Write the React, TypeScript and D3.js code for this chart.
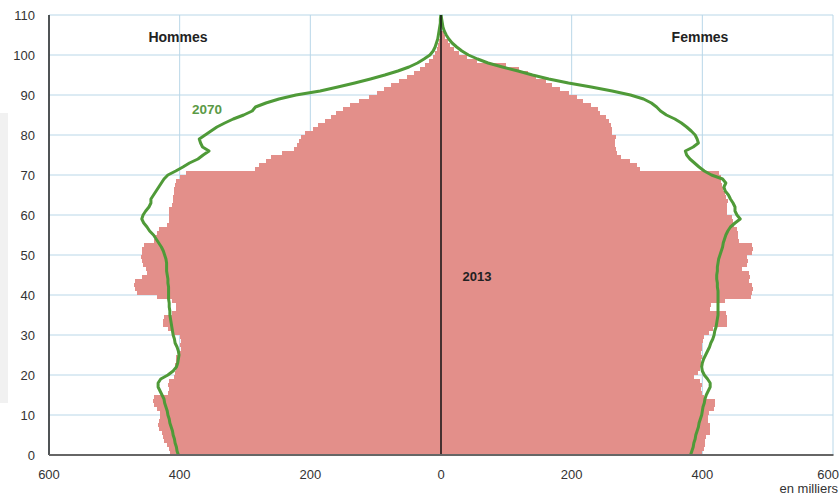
// Population pyramid: France 2013 (bars) vs 2070 projection (line)
import React, { useEffect, useRef } from 'react';
import * as d3 from 'd3';

// 2013 population by single year of age (0..105), thousands
const men2013: number[] = [
  415, 417, 420, 424, 426, 427, 432, 433, 431, 430,
  430, 434, 440, 441, 439, 418, 417, 418, 416, 408,
  407, 406, 407, 406, 405, 399, 398, 399, 398, 400,
  408, 418, 425, 426, 424, 412, 405, 406, 412, 435,
  466, 468, 470, 468, 458, 450, 451, 456, 458, 459,
  458, 457, 455, 440, 437, 434, 432, 420, 417, 416,
  417, 416, 412, 410, 410, 409, 408, 407, 405, 400,
  390, 285, 279, 268, 260, 243, 225, 221, 218, 214,
  208, 196, 188, 178, 168, 160, 150, 139, 125, 110,
  98, 88, 76, 64, 52, 42, 32, 24, 18, 13,
  9, 6, 4, 3, 2, 1,
];

const women2013: number[] = [
  400, 402, 404, 404, 405, 411, 412, 412, 409, 408,
  410, 418, 420, 419, 402, 399, 398, 399, 397, 388,
  394, 396, 398, 398, 399, 398, 399, 400, 401, 402,
  410, 417, 437, 438, 437, 436, 412, 414, 435, 474,
  476, 477, 476, 472, 473, 471, 460, 468, 470, 469,
  476, 477, 476, 456, 455, 454, 453, 448, 447, 446,
  438, 437, 438, 440, 436, 435, 431, 430, 429, 428,
  425, 305, 300, 290, 275, 270, 268, 267, 266, 268,
  262, 262, 260, 257, 252, 244, 240, 230, 218, 208,
  196, 182, 170, 160, 146, 133, 120, 100, 55, 40,
  28, 20, 14, 10, 6, 4,
];

// 2070 projection by age (0..110), thousands
const men2070: number[] = [
  402, 404, 405, 407, 408, 410, 411, 413, 415, 416,
  418, 419, 421, 423, 424, 427, 430, 433, 433, 429,
  418, 410, 405, 403, 402, 401, 402, 404, 407, 408,
  410, 411, 412, 413, 414, 415, 415, 416, 416, 417,
  417, 417, 417, 418, 418, 419, 420, 420, 420, 421,
  423, 425, 428, 432, 436, 440, 446, 450, 455, 458,
  456, 452, 447, 444, 444, 440, 436, 432, 428, 424,
  418, 406, 395, 385, 372, 364, 355, 365, 368, 370,
  361, 352, 343, 331, 318, 302, 289, 284, 268, 248,
  222, 185, 158, 132, 108, 86, 66, 49, 36, 26,
  17, 12, 9, 7, 5, 4, 3, 2, 1, 1,
  0,
];

const women2070: number[] = [
  382, 384, 386, 387, 389, 390, 392, 394, 395, 397,
  399, 400, 401, 403, 404, 406, 409, 412, 412, 408,
  403, 400, 399, 400, 402, 405, 408, 411, 413, 416,
  418, 419, 421, 422, 423, 424, 424, 424, 424, 424,
  424, 424, 423, 423, 422, 422, 423, 423, 424, 425,
  427, 429, 431, 432, 434, 436, 439, 443, 450, 458,
  453, 450, 450, 447, 443, 440, 435, 433, 436, 431,
  414, 403, 395, 388, 381, 376, 374, 386, 394, 392,
  389, 383, 376, 368, 358, 345, 336, 330, 322, 310,
  290, 262, 230, 195, 165, 140, 118, 94, 72, 56,
  42, 32, 24, 17, 12, 8, 5, 3, 2, 1,
  0,
];

const ageTicks: number[] = [0, 10, 20, 30, 40, 50, 60, 70, 80, 90, 100, 110];
const valueTicks: number[] = [0, 200, 400, 600];

const FONT = '"Liberation Sans", Arial, sans-serif';

const Pyramid: React.FC = () => {
  const ref = useRef<SVGSVGElement>(null);

  useEffect(() => {
    if (!ref.current) return;
    const svg = d3.select(ref.current);
    svg.selectAll('*').remove();

    const width = 840;
    const height = 501;
    const left = 49;
    const right = 833;
    const top = 15;
    const bottom = 455;
    const mid = (left + right) / 2;

    svg.attr('width', width).attr('height', height);

    const xMen = d3.scaleLinear().domain([0, 600]).range([mid, left]);
    const xWomen = d3.scaleLinear().domain([0, 600]).range([mid, right]);
    const y = d3.scaleLinear().domain([0, 110]).range([bottom, top]);

    // stray grey strip at the left edge of the screenshot
    svg.append('rect')
      .attr('x', 0).attr('y', 113).attr('width', 8).attr('height', 290)
      .attr('fill', '#f1f1f1');

    const grid = svg.append('g').attr('stroke', '#b9d7e8').attr('stroke-width', 1);
    ageTicks.forEach((a) => {
      grid.append('line')
        .attr('x1', left).attr('x2', right)
        .attr('y1', y(a)).attr('y2', y(a));
    });
    valueTicks.filter((v) => v > 0).forEach((v) => {
      [xMen(v), xWomen(v)].forEach((px) => {
        grid.append('line')
          .attr('x1', px).attr('x2', px)
          .attr('y1', top).attr('y2', bottom);
      });
    });

    // 2013 bars
    const bars = svg.append('g').attr('fill', '#e38f8a').attr('shape-rendering', 'crispEdges');
    men2013.forEach((v, age) => {
      bars.append('rect')
        .attr('x', xMen(v))
        .attr('y', y(age + 1))
        .attr('width', mid - xMen(v))
        .attr('height', y(age) - y(age + 1));
    });
    women2013.forEach((v, age) => {
      bars.append('rect')
        .attr('x', mid)
        .attr('y', y(age + 1))
        .attr('width', xWomen(v) - mid)
        .attr('height', y(age) - y(age + 1));
    });

    // 2070 lines
    const menLine = d3.line<number>().x((d) => xMen(d)).y((_, i) => y(i));
    const womenLine = d3.line<number>().x((d) => xWomen(d)).y((_, i) => y(i));
    [menLine(men2070), womenLine(women2070)].forEach((d) => {
      svg.append('path')
        .attr('d', d ?? '')
        .attr('fill', 'none')
        .attr('stroke', '#4f9a38')
        .attr('stroke-width', 3)
        .attr('stroke-linejoin', 'round');
    });

    // axes
    svg.append('line')
      .attr('x1', mid).attr('x2', mid).attr('y1', top).attr('y2', bottom)
      .attr('stroke', '#111').attr('stroke-width', 1.5);
    svg.append('line')
      .attr('x1', left).attr('x2', left).attr('y1', top).attr('y2', bottom)
      .attr('stroke', '#222').attr('stroke-width', 1.5);
    svg.append('line')
      .attr('x1', left).attr('x2', right + 0.5).attr('y1', bottom).attr('y2', bottom)
      .attr('stroke', '#666').attr('stroke-width', 2);

    const labels = svg.append('g')
      .style('font-family', FONT)
      .style('font-size', '13px')
      .attr('fill', '#333');
    ageTicks.forEach((a) => {
      labels.append('text')
        .attr('x', 35).attr('y', y(a) + 5)
        .attr('text-anchor', 'end')
        .text(a);
    });
    const xTicks = [
      ...valueTicks.slice().reverse().map((v) => ({ v, px: xMen(v) })),
      ...valueTicks.slice(1).map((v) => ({ v, px: xWomen(v) })),
    ];
    xTicks.forEach((t) => {
      const atEdge = t.px > width - 20;
      labels.append('text')
        .attr('x', atEdge ? width - 1 : t.px).attr('y', 479)
        .attr('text-anchor', atEdge ? 'end' : 'middle')
        .text(t.v);
    });
    labels.append('text')
      .attr('x', 838).attr('y', 493)
      .attr('text-anchor', 'end')
      .text('en milliers');

    const bold = svg.append('g')
      .style('font-family', FONT)
      .style('font-weight', 'bold')
      .style('font-size', '14px');
    bold.append('text').attr('x', 178).attr('y', 42).attr('text-anchor', 'middle')
      .attr('fill', '#222').text('Hommes');
    bold.append('text').attr('x', 700).attr('y', 42).attr('text-anchor', 'middle')
      .attr('fill', '#222').text('Femmes');
    bold.append('text').attr('x', 477).attr('y', 281).attr('text-anchor', 'middle')
      .attr('fill', '#222').style('font-size', '13px').text('2013');
    bold.append('text').attr('x', 207).attr('y', 114).attr('text-anchor', 'middle')
      .attr('fill', '#5b9a46').style('font-size', '13.5px').text('2070');
  }, []);

  return <svg ref={ref} style={{ display: 'block' }}></svg>;
};

export default function App() {
  return (
    <div style={{ position: 'absolute', left: 0, top: 0 }}>
      <Pyramid />
    </div>
  );
}
